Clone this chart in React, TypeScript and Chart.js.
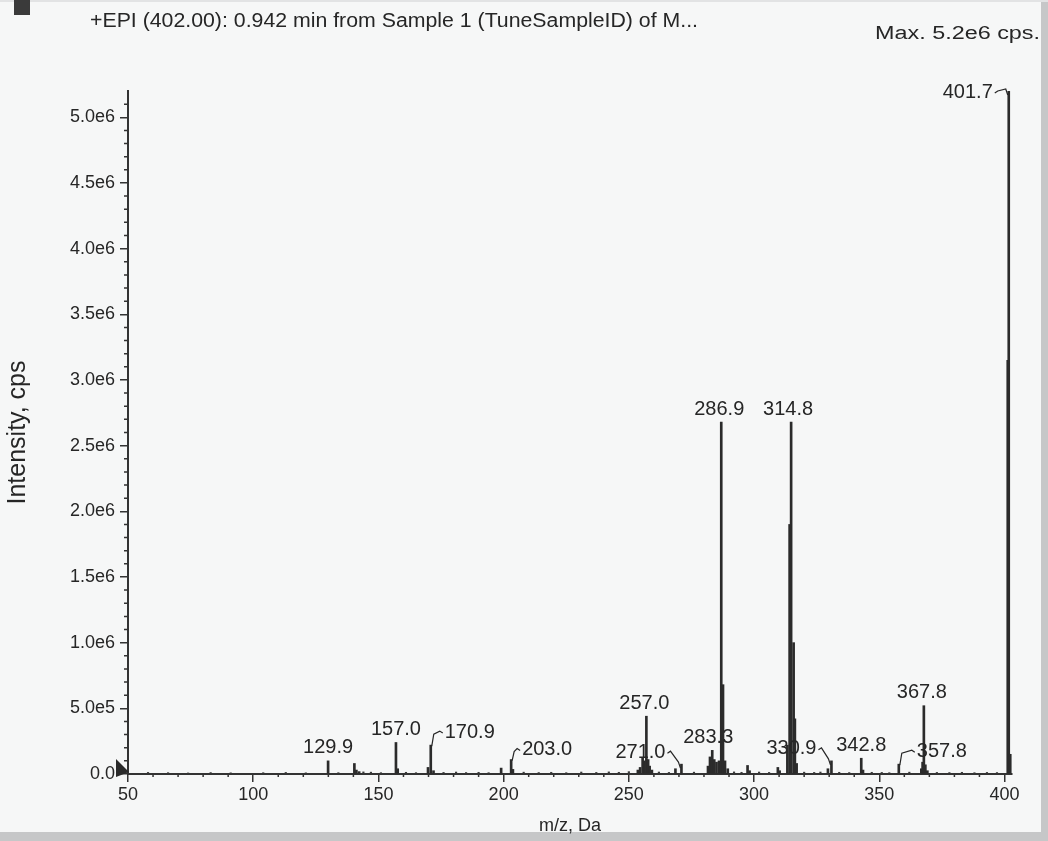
import React, { useEffect, useRef } from "react";
import { Chart, registerables } from "chart.js";

Chart.register(...registerables);

const HEADER = "+EPI (402.00): 0.942 min from Sample 1 (TuneSampleID) of M...";
const MAX_TEXT = "Max. 5.2e6 cps.";
const X_TITLE = "m/z, Da";
const Y_TITLE = "Intensity, cps";

// main fragment peaks (m/z, intensity in cps)
const peakMz = [
  129.9, 140.4, 141.2, 142.3, 157.0, 157.7, 169.8, 170.9, 172.0,
  199.0, 203.0, 203.7, 253.6, 254.5, 255.5, 256.2, 257.0, 257.7, 258.3, 259.2,
  268.6, 271.0, 281.6, 282.4, 283.3, 284.1, 285.0, 286.0, 286.9, 287.6, 288.4, 289.5,
  297.4, 298.2, 309.5, 310.2, 313.3, 314.2, 314.8, 315.8, 316.3, 317.0,
  329.5, 330.9, 342.8, 343.5, 357.8, 366.8, 367.3, 367.8, 368.4, 369.2,
  401.3, 401.7, 402.3,
];
const peakIntensity = [
  1.0e5, 8.0e4, 3.0e4, 1.8e4, 2.4e5, 4.0e4, 5.0e4, 2.2e5, 2.5e4,
  4.5e4, 1.1e5, 3.5e4, 3.0e4, 5.0e4, 1.2e5, 1.0e5, 4.4e5, 1.1e5, 6.0e4, 3.0e4,
  4.0e4, 7.5e4, 6.0e4, 1.3e5, 1.8e5, 1.1e5, 9.0e4, 1.0e5, 2.68e6, 6.8e5, 1.0e5, 4.0e4,
  6.5e4, 2.5e4, 5.0e4, 2.5e4, 2.2e5, 1.9e6, 2.68e6, 1.0e6, 4.2e5, 8.0e4,
  4.0e4, 1.0e5, 1.2e5, 3.0e4, 7.5e4, 4.0e4, 9.0e4, 5.2e5, 7.0e4, 2.5e4,
  3.15e6, 5.2e6, 1.5e5,
];

// low-level baseline noise
const noiseMz = [
  58, 66, 74, 83, 91, 104, 113, 121, 134, 144, 147, 151, 161, 165, 176, 181, 185,
  190, 194, 208, 214, 219, 225, 231, 237, 242, 246, 250, 262, 266, 276, 292, 295,
  302, 306, 320, 324, 326.5, 334, 338, 347, 351, 354, 362, 373, 378, 383, 388, 393, 397,
];
const noiseIntensity = [
  1.2e4, 1.0e4, 0.8e4, 1.1e4, 0.9e4, 1.0e4, 1.2e4, 0.9e4, 1.0e4, 1.6e4, 1.4e4, 1.0e4, 1.3e4, 1.0e4, 1.2e4, 1.5e4, 1.1e4,
  1.3e4, 1.0e4, 1.4e4, 1.1e4, 1.3e4, 1.0e4, 1.5e4, 1.2e4, 1.6e4, 1.3e4, 1.8e4, 1.5e4, 1.2e4, 1.4e4, 1.6e4, 1.3e4,
  1.5e4, 1.2e4, 1.4e4, 1.2e4, 1.5e4, 1.3e4, 1.1e4, 1.3e4, 1.2e4, 1.0e4, 1.4e4, 1.2e4, 1.1e4, 1.3e4, 1.0e4, 1.2e4, 1.1e4,
];

// annotated peaks
const labelMz = [129.9, 157.0, 170.9, 203.0, 257.0, 271.0, 283.3, 286.9, 314.8, 330.9, 342.8, 357.8, 367.8, 401.7];
const labelText = ["129.9", "157.0", "170.9", "203.0", "257.0", "271.0", "283.3", "286.9", "314.8", "330.9", "342.8", "357.8", "367.8", "401.7"];

// axis settings
const X_MIN = 50;
const X_MAX = 403;
const X_STEP = 50;
const Y_MIN = 0;
const Y_MAX = 5.2e6;
const Y_TICKS = [0, 5e5, 1e6, 1.5e6, 2e6, 2.5e6, 3e6, 3.5e6, 4e6, 4.5e6, 5e6];

// label placement (dx, dy of text centre from peak top, leader side)
const LABEL_LAYOUT: Array<[number, number, string]> = [
  [0, -13, ""],
  [0, -13, ""],
  [39, -13, "R"],
  [36, -10, "R"],
  [-2, -13, ""],
  [-41, -12, "L"],
  [-4, -13, ""],
  [-2, -13, ""],
  [-3, -13, ""],
  [-40, -12, "L"],
  [0, -13, ""],
  [43, -13, "R"],
  [-2, -13, ""],
  [-41, 1, "L"],
];

const FONT = "'Liberation Sans', Arial, sans-serif";
const INK = "#262626";

function fmtY(v: number): string {
  if (v === 0) return "0.0";
  if (v < 1e6) return (v / 1e5).toFixed(1) + "e5";
  return (v / 1e6).toFixed(1) + "e6";
}

const decorPlugin = {
  id: "decor",
  beforeDraw(chart: any) {
    const { ctx, width, height } = chart;
    ctx.save();
    ctx.fillStyle = "#f6f7f7";
    ctx.fillRect(0, 0, width, height);
    ctx.fillStyle = "#c6c7c8";
    ctx.fillRect(width - 7, 0, 7, height);
    ctx.fillRect(0, height - 9, width, 9);
    ctx.fillStyle = "#e2e3e4";
    ctx.fillRect(0, 0, width, 2);
    ctx.restore();
  },
  afterDraw(chart: any) {
    const { ctx, scales } = chart;
    const x = scales.x;
    const y = scales.y;
    ctx.save();
    // header square
    ctx.fillStyle = "#3a3a3a";
    ctx.fillRect(14, 0, 16, 15);
    // header text, fitted to width
    ctx.fillStyle = INK;
    ctx.textBaseline = "alphabetic";
    ctx.font = "20px " + FONT;
    let w = ctx.measureText(HEADER).width;
    ctx.save();
    ctx.translate(90, 27);
    ctx.scale(608 / w, 1);
    ctx.textAlign = "left";
    ctx.fillText(HEADER, 0, 0);
    ctx.restore();
    ctx.font = "18px " + FONT;
    w = ctx.measureText(MAX_TEXT).width;
    ctx.save();
    ctx.translate(1040, 39);
    ctx.scale(165 / w, 1);
    ctx.textAlign = "right";
    ctx.fillText(MAX_TEXT, 0, 0);
    ctx.restore();

    // minor ticks
    ctx.strokeStyle = "#333";
    ctx.lineWidth = 1.5;
    ctx.beginPath();
    for (let v = X_MIN + 10; v < X_MAX; v += 10) {
      if (v % 50 === 0) continue;
      const px = x.getPixelForValue(v);
      ctx.moveTo(px, y.bottom);
      ctx.lineTo(px, y.bottom + 3);
    }
    for (let v = 1e5; v < Y_MAX; v += 1e5) {
      if (Math.round(v / 1e5) % 5 === 0) continue;
      const py = y.getPixelForValue(v);
      ctx.moveTo(x.left - 4, py);
      ctx.lineTo(x.left, py);
    }
    ctx.stroke();

    // origin marker
    ctx.fillStyle = "#2a2a2a";
    const oy = y.getPixelForValue(0);
    ctx.beginPath();
    ctx.moveTo(x.left - 12, oy - 15);
    ctx.lineTo(x.left - 12, oy + 3);
    ctx.lineTo(x.left + 1, oy - 2);
    ctx.closePath();
    ctx.fill();
    ctx.restore();
  },
};

const labelPlugin = {
  id: "peakLabels",
  afterDatasetsDraw(chart: any) {
    const { ctx, scales } = chart;
    const x = scales.x;
    const y = scales.y;
    ctx.save();
    ctx.font = "20px " + FONT;
    ctx.fillStyle = INK;
    ctx.strokeStyle = INK;
    ctx.lineWidth = 1.2;
    ctx.textAlign = "center";
    ctx.textBaseline = "middle";
    labelMz.forEach((mz, i) => {
      const idx = peakMz.indexOf(mz);
      const px = x.getPixelForValue(mz);
      const py = y.getPixelForValue(peakIntensity[idx]);
      const [dx, dy, side] = LABEL_LAYOUT[i];
      const lx = px + dx;
      const ly = py + dy;
      ctx.fillText(labelText[i], lx, ly);
      const tw = ctx.measureText(labelText[i]).width;
      if (side === "R") {
        const ex = lx - tw / 2 - 2;
        ctx.beginPath();
        ctx.moveTo(px + 1, py + 1);
        ctx.lineTo(px + 3, ly + 2);
        ctx.lineTo(ex - 3, ly - 1);
        ctx.lineTo(ex, ly + 1);
        ctx.stroke();
      } else if (side === "L") {
        const sx = lx + tw / 2 + 2;
        ctx.beginPath();
        ctx.moveTo(sx, ly + 1);
        ctx.lineTo(sx + 3, ly - 1);
        ctx.lineTo(px - 3, py - 2);
        ctx.lineTo(px - 1, py + 4);
        ctx.stroke();
      }
    });
    ctx.restore();
  },
};

export default function App() {
  const ref = useRef<HTMLCanvasElement | null>(null);
  useEffect(() => {
    document.body.style.margin = "0";
    const canvas = ref.current;
    if (!canvas) return;
    const chart = new Chart(canvas, {
      type: "bar",
      data: {
        datasets: [
          {
            data: peakMz.map((m, i) => ({ x: m, y: peakIntensity[i] })),
            backgroundColor: "#2b2b2b",
            borderWidth: 0,
            barThickness: 2,
            grouped: false,
          } as any,
          {
            data: noiseMz.map((m, i) => ({ x: m, y: noiseIntensity[i] })),
            backgroundColor: "#3a3a3a",
            borderWidth: 0,
            barThickness: 1.5,
            grouped: false,
          } as any,
        ],
      },
      options: {
        animation: false,
        responsive: false,
        devicePixelRatio: 1,
        layout: { padding: { left: 0, right: 36, top: 91, bottom: 0 } },
        plugins: {
          legend: { display: false },
          tooltip: { enabled: false },
        },
        scales: {
          x: {
            type: "linear",
            min: X_MIN,
            max: X_MAX,
            offset: false,
            afterFit: (s: any) => {
              s.height = 67;
            },
            grid: { display: true, drawOnChartArea: false, drawTicks: true, tickLength: 8, color: "#333", lineWidth: 1.5, offset: false },
            border: { display: true, color: "#333", width: 2 },
            ticks: {
              stepSize: X_STEP,
              includeBounds: false,
              maxTicksLimit: 20,
              padding: 2,
              color: INK,
              font: { family: FONT, size: 18 },
              maxRotation: 0,
              callback: (v: any) => String(v),
            },
            title: {
              display: true,
              text: X_TITLE,
              color: INK,
              font: { family: FONT, size: 18 },
              padding: { top: 0, bottom: 4 },
            },
          },
          y: {
            type: "linear",
            min: Y_MIN,
            max: Y_MAX,
            afterFit: (s: any) => {
              s.width = 128;
            },
            afterBuildTicks: (s: any) => {
              s.ticks = Y_TICKS.map((v) => ({ value: v }));
            },
            grid: { display: true, drawOnChartArea: false, drawTicks: true, tickLength: 8, color: "#333", lineWidth: 1.5 },
            border: { display: true, color: "#333", width: 2 },
            ticks: {
              padding: 5,
              color: INK,
              font: { family: FONT, size: 18 },
              autoSkip: false,
              callback: (v: any) => fmtY(Number(v)),
            },
            title: {
              display: true,
              text: Y_TITLE,
              color: INK,
              font: { family: FONT, size: 25 },
              padding: { top: 3, bottom: 0 },
            },
          },
        },
      } as any,
      plugins: [decorPlugin, labelPlugin],
    });
    return () => chart.destroy();
  }, []);
  return (
    <div style={{ width: 1048, height: 841 }}>
      <canvas ref={ref} width={1048} height={841} style={{ display: "block", width: 1048, height: 841 }} />
    </div>
  );
}
